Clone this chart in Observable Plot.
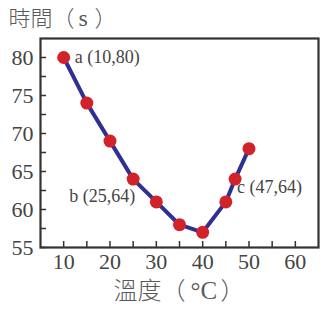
<!DOCTYPE html>
<html><head><meta charset="utf-8">
<script src="https://cdn.jsdelivr.net/npm/d3@7"></script>
<script src="https://cdn.jsdelivr.net/npm/@observablehq/plot@0.6"></script>
<style>body{margin:0;background:#fff}</style>
</head><body><div id="chart"></div>
<script>
const temps = [10, 15, 20, 25, 30, 35, 40, 45, 47, 50];
const times = [80, 74, 69, 64, 61, 58, 57, 61, 64, 68];
const xTickLabels = [10, 20, 30, 40, 50, 60];
const xMinorTicks = [10, 15, 20, 25, 30, 35, 40, 45, 50, 55, 60];
const yTickLabels = [55, 60, 65, 70, 75, 80];
const yMinorTicks = [55, 57.5, 60, 62.5, 65, 67.5, 70, 72.5, 75, 77.5, 80];
const annotations = [
  {label: "a (10,80)", x: 10, y: 80},
  {label: "b (25,64)", x: 25, y: 64},
  {label: "c (47,64)", x: 47, y: 64}
];
const yTitle = ["時間（", "s", "）"];
const xTitle = ["溫度（", "°C", "）"];

const data = temps.map((t, i) => ({t, s: times[i]}));
const serif = "'Liberation Serif', serif";
const cjk = "'Noto Sans CJK TC', sans-serif";
const txt = "#444";
const ttl = "#5a5a5a";

const chart = Plot.plot({
  width: 330, height: 312,
  marginLeft: 40, marginRight: 12, marginTop: 38, marginBottom: 65,
  x: {domain: [5, 65]},
  y: {domain: [55, 82.5]},
  style: {fontFamily: serif, background: "#fff"},
  marks: [
    Plot.axisY({ticks: yTickLabels, tickSize: 0, tickPadding: 7, fontSize: 22, fill: txt, label: null}),
    Plot.axisY({ticks: yMinorTicks, tickSize: -6, text: null, label: null, stroke: "#333", strokeWidth: 1.5}),
    Plot.axisX({ticks: xTickLabels, tickSize: 0, tickPadding: 6, fontSize: 22, fill: txt, label: null}),
    Plot.axisX({ticks: xMinorTicks, tickSize: -6, text: null, label: null, stroke: "#333", strokeWidth: 1.5}),
    Plot.frame({stroke: "#333", strokeWidth: 2.2}),
    Plot.line(data, {x: "t", y: "s", stroke: "#2e3192", strokeWidth: 4}),
    Plot.dot(data, {x: "t", y: "s", r: 6.5, fill: "#d2232a"}),
    Plot.text([annotations[0]], {x: "x", y: "y", text: "label", textAnchor: "start", dx: 11, fontSize: 18, fill: txt}),
    Plot.text([annotations[1]], {x: "x", y: "y", text: "label", textAnchor: "end", dx: 2, dy: 17, fontSize: 18, fill: txt}),
    Plot.text([annotations[2]], {x: "x", y: "y", text: "label", textAnchor: "start", dx: 2, dy: 8, fontSize: 18, fill: txt}),
    // y title
    Plot.text([yTitle[0]], {frameAnchor: "top-left", textAnchor: "start", lineAnchor: "bottom", dx: -32, dy: -12.5, fontSize: 22, fontFamily: cjk, fontWeight: 300, fill: ttl}),
    Plot.text([yTitle[1]], {frameAnchor: "top-left", textAnchor: "start", lineAnchor: "bottom", dx: 38, dy: -12.5, fontSize: 24, fontFamily: serif, fill: ttl}),
    Plot.text([yTitle[2]], {frameAnchor: "top-left", textAnchor: "start", lineAnchor: "bottom", dx: 54, dy: -12.5, fontSize: 22, fontFamily: cjk, fontWeight: 300, fill: ttl}),
    // x title
    Plot.text([xTitle[0]], {frameAnchor: "bottom-left", textAnchor: "start", lineAnchor: "bottom", dx: 73, dy: 51, fontSize: 24, fontFamily: cjk, fontWeight: 300, fill: ttl}),
    Plot.text([xTitle[1]], {frameAnchor: "bottom-left", textAnchor: "start", lineAnchor: "bottom", dx: 150, dy: 51, fontSize: 25, fontFamily: serif, fill: ttl}),
    Plot.text([xTitle[2]], {frameAnchor: "bottom-left", textAnchor: "start", lineAnchor: "bottom", dx: 180, dy: 51, fontSize: 24, fontFamily: cjk, fontWeight: 300, fill: ttl})
  ]
});
document.getElementById("chart").appendChild(chart);
</script></body></html>
